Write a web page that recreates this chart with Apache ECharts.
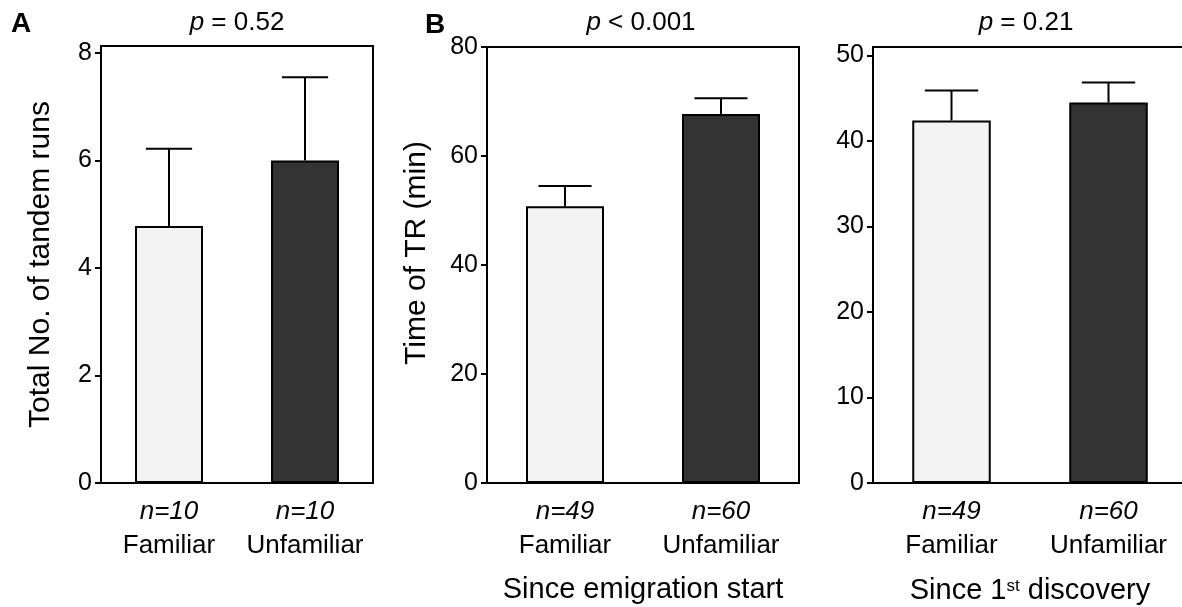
<!DOCTYPE html>
<html>
<head>
<meta charset="utf-8">
<script src="https://cdn.jsdelivr.net/npm/echarts@6/dist/echarts.min.js"></script>
<style>
  html, body { margin: 0; padding: 0; background: #fff; }
  #main { width: 1182px; height: 607px; }
</style>
</head>
<body>
<div id="main"></div>
<script>
var cats = ['Familiar', 'Unfamiliar'];

// A: total number of tandem runs
var totalRuns = [4.78, 6.0];
var totalRunsUpper = [6.22, 7.55];
var nTotal = [10, 10];
var ticksA = [0, 2, 4, 6, 8];

// B: time of TR since emigration start
var timeStart = [50.8, 67.7];
var timeStartUpper = [54.5, 70.6];
var nStart = [49, 60];
var ticksB = [0, 20, 40, 60, 80];

// C: time of TR since 1st discovery
var timeDisc = [42.4, 44.5];
var timeDiscUpper = [45.9, 46.85];
var nDisc = [49, 60];
var ticksC = [0, 10, 20, 30, 40, 50];

var pTexts = ['= 0.52', '< 0.001', '= 0.21'];
var barColors = ['#f3f3f3', '#333333'];

var FONT = 'Liberation Sans, Arial, Helvetica, sans-serif';

var myChart = echarts.init(document.getElementById('main'));

function xAxisFor(idx, nArr, name) {
  return {
    type: 'category',
    gridIndex: idx,
    data: cats,
    name: name,
    nameLocation: 'middle',
    nameGap: 92,
    nameTextStyle: {
      color: '#000', fontFamily: FONT, fontSize: 29,
      rich: {
        m: { fontFamily: FONT, fontSize: 29, color: '#000', lineHeight: 32 },
        sup: { fontFamily: FONT, fontSize: 17, color: '#000', lineHeight: 32, verticalAlign: 'middle', padding: [0, 0, 9, 0] }
      }
    },
    axisLine: { lineStyle: { color: '#000', width: 2 } },
    axisTick: { alignWithLabel: true, length: 5, lineStyle: { color: '#000', width: 2 } },
    axisLabel: {
      margin: 12,
      formatter: function (v, i) {
        return '{n|n=' + nArr[i] + '}\n{c|' + v + '}';
      },
      rich: {
        n: { fontFamily: FONT, fontSize: 26, fontStyle: 'italic', color: '#000', lineHeight: 34 },
        c: { fontFamily: FONT, fontSize: 26, color: '#000', lineHeight: 34 }
      }
    },
    splitLine: { show: false }
  };
}

function yAxisFor(idx, max, ticks, name, gap, pad) {
  return {
    type: 'value',
    gridIndex: idx,
    min: 0,
    max: max,
    name: name,
    nameLocation: 'middle',
    nameGap: gap,
    nameTextStyle: { color: '#000', fontFamily: FONT, fontSize: 30, padding: pad },
    axisLine: { show: true, lineStyle: { color: '#000', width: 2 } },
    axisTick: { show: true, length: 6, customValues: ticks, lineStyle: { color: '#000', width: 2 } },
    axisLabel: { customValues: ticks, margin: 9, color: '#000', fontFamily: FONT, fontSize: 25 },
    splitLine: { show: false }
  };
}

function barSeries(idx, vals) {
  return {
    type: 'bar',
    xAxisIndex: idx,
    yAxisIndex: idx,
    barWidth: '50%',
    data: vals.map(function (v, i) {
      return { value: v, itemStyle: { color: barColors[i] } };
    }),
    itemStyle: { borderColor: '#000', borderWidth: 2 },
    z: 2
  };
}

function errSeries(idx, vals, upper) {
  return {
    type: 'custom',
    xAxisIndex: idx,
    yAxisIndex: idx,
    z: 3,
    encode: { x: 0, y: [1, 2] },
    data: vals.map(function (v, i) { return [i, v, upper[i]]; }),
    renderItem: function (params, api) {
      var x = api.value(0);
      var base = api.coord([x, api.value(1)]);
      var top = api.coord([x, api.value(2)]);
      var half = api.size([1, 0])[0] * 0.17;
      var st = { stroke: '#000', lineWidth: 2 };
      return {
        type: 'group',
        children: [
          { type: 'line', shape: { x1: base[0], y1: base[1], x2: top[0], y2: top[1] }, style: st },
          { type: 'line', shape: { x1: top[0] - half, y1: top[1], x2: top[0] + half, y2: top[1] }, style: st }
        ]
      };
    }
  };
}

var pCenters = [232, 636, 1021];
var titles = pTexts.map(function (t, i) {
  return {
    text: '{i|p} ' + t,
    left: pCenters[i],
    top: 5,
    textAlign: 'center',
    textStyle: {
      fontFamily: FONT, fontSize: 26, fontWeight: 'normal', color: '#000',
      rich: {
        i: { fontFamily: FONT, fontSize: 26, fontStyle: 'italic', color: '#000' }
      }
    }
  };
});
titles.push({ text: 'A', left: 6, top: 5, textStyle: { fontFamily: FONT, fontSize: 28, fontWeight: 'bold', color: '#000' } });
titles.push({ text: 'B', left: 420, top: 6, textStyle: { fontFamily: FONT, fontSize: 28, fontWeight: 'bold', color: '#000' } });

var gridStyle = { show: true, borderColor: '#000', borderWidth: 2, backgroundColor: 'transparent', outerBoundsMode: 'none', containLabel: false };

var option = {
  animation: false,
  textStyle: { fontFamily: FONT },
  title: titles,
  grid: [
    Object.assign({ left: 101, right: 809, top: 46, bottom: 124 }, gridStyle),
    Object.assign({ left: 487, right: 383, top: 47, bottom: 124 }, gridStyle),
    Object.assign({ left: 873, right: -5, top: 47, bottom: 124 }, gridStyle)
  ],
  xAxis: [
    xAxisFor(0, nTotal, ''),
    xAxisFor(1, nStart, 'Since emigration start'),
    xAxisFor(2, nDisc, '{m|Since 1}{sup|st}{m| discovery}')
  ],
  yAxis: [
    yAxisFor(0, 8.13, ticksA, 'Total No. of tandem runs', 45, 0),
    yAxisFor(1, 80, ticksB, 'Time of TR (min)', 55, [0, 0, 0, 24]),
    yAxisFor(2, 51, ticksC, '', 40, 0)
  ],
  series: [
    barSeries(0, totalRuns), errSeries(0, totalRuns, totalRunsUpper),
    barSeries(1, timeStart), errSeries(1, timeStart, timeStartUpper),
    barSeries(2, timeDisc), errSeries(2, timeDisc, timeDiscUpper)
  ]
};

myChart.setOption(option);
window.addEventListener('resize', function () {
  myChart.resize();
});
</script>
</body>
</html>
